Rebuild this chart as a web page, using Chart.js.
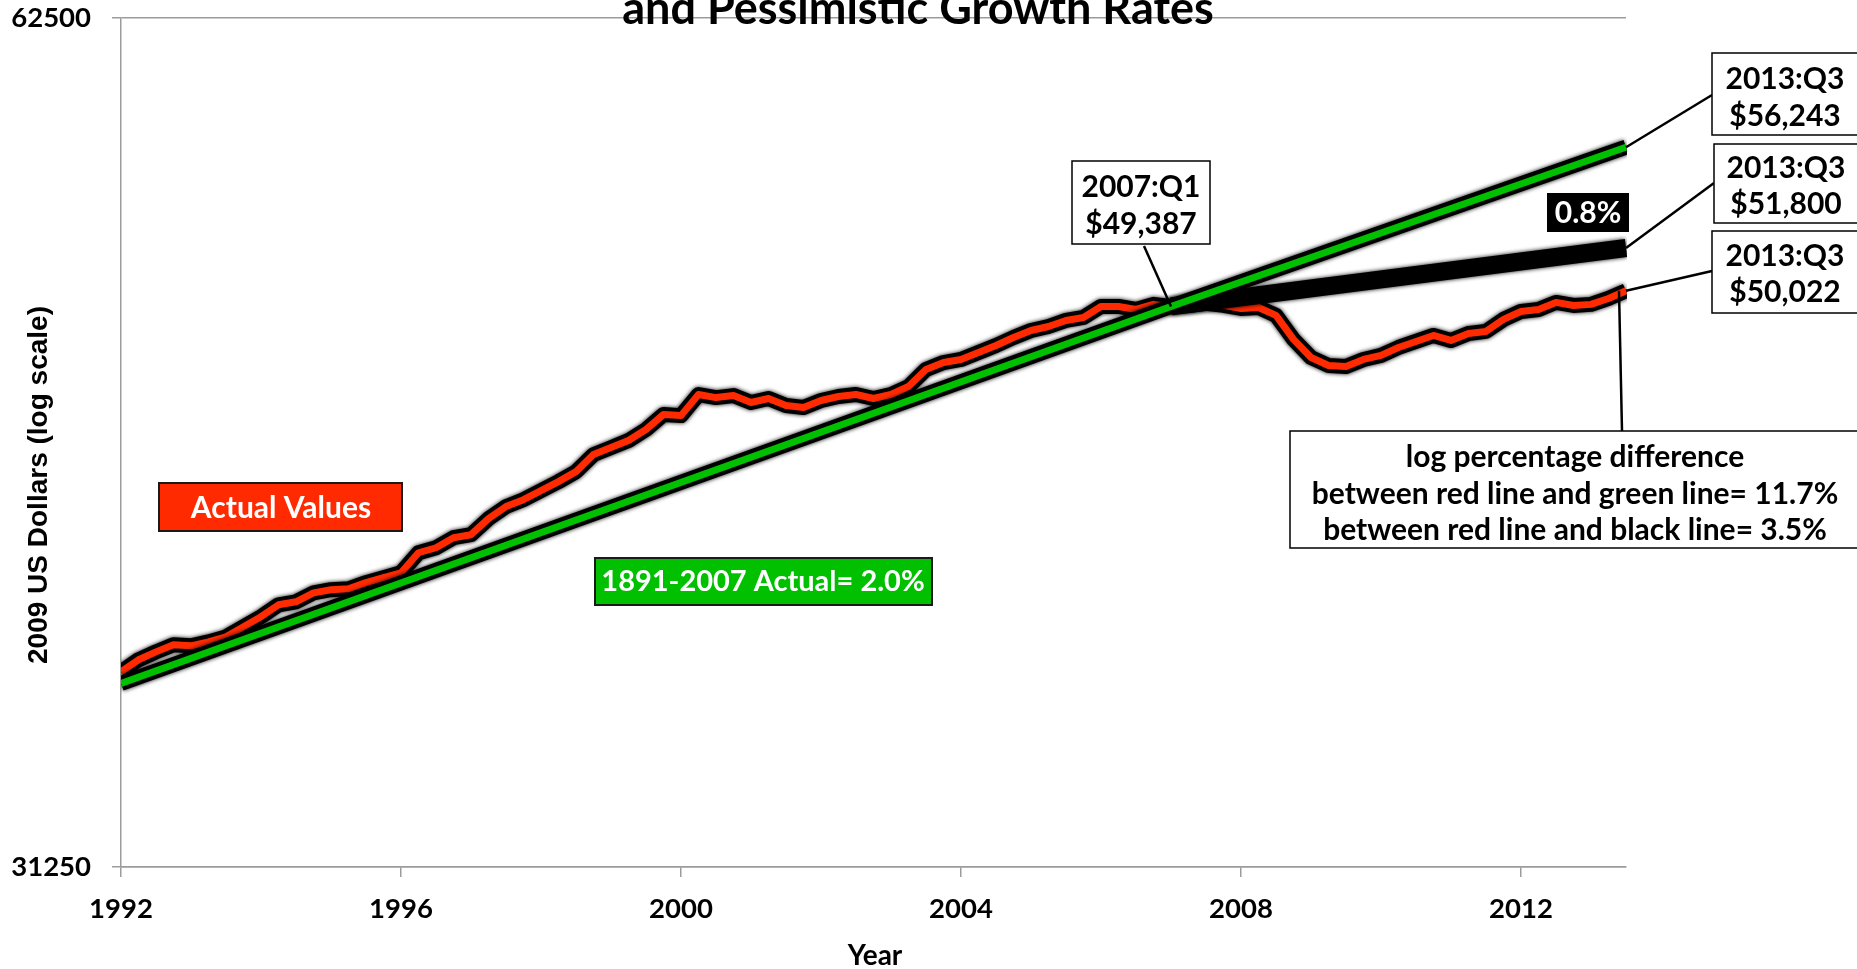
<!DOCTYPE html>
<html>
<head>
<meta charset="utf-8">
<title>Real GDP per capita: actual vs trend</title>
<script src="https://cdn.jsdelivr.net/npm/chart.js@4.4.1/dist/chart.umd.min.js"></script>
<style>
  html, body { margin: 0; padding: 0; background: #fff; }
  #wrap { width: 1857px; height: 969px; position: relative; }
</style>
</head>
<body>
<div id="wrap"><canvas id="gdpChart"></canvas></div>
<script>
// Real GDP per capita (2009 US dollars), quarterly 1992:Q1 .. 2013:Q3
const firstYear = 1992;
const actualValues = [
  36650, 37010, 37250, 37465, 37435, 37555, 37710, 38020,   // 1992-1993
  38335, 38710, 38805, 39090, 39190, 39220, 39415, 39575,   // 1994-1995
  39735, 40390, 40555, 40890, 40990, 41530, 41940, 42180,   // 1996-1997
  42490, 42805, 43155, 43760, 44010, 44265, 44665, 45215,   // 1998-1999
  45175, 45960, 45845, 45920, 45660, 45810, 45550, 45475,   // 2000-2001
  45735, 45885, 45960, 45810, 45960, 46260, 46910, 47175,   // 2002-2003
  47295, 47565, 47835, 48150, 48425, 48585, 48825, 48945,   // 2004-2005
  49385, 49385, 49265, 49470, 49387, 49427, 49510, 49430,   // 2006-2007
  49305, 49345, 49025, 48075, 47370, 47060, 47025, 47295,   // 2008-2009
  47450, 47760, 47995, 48230, 48035, 48310, 48390, 48865,   // 2010-2011
  49185, 49265, 49550, 49425, 49470, 49710, 50022           // 2012-2013:Q3
];

// 2.0% trend line and 0.8% pessimistic line
const trendYears = [1992, 2007, 2013.5];
const trendValues = [36300, 49387, 56243];
const pessimisticYears = [2007, 2013.5];
const pessimisticValues = [49387, 51800];

const yearTicks = [1992, 1996, 2000, 2004, 2008, 2012];
const valueTicks = [31250, 62500];

const RED = '#ff2a00';
const GREEN = '#00c000';
const AXIS = '#9c9c9c';
const FONT = 'Lato';

const toPoints = (xs, ys) => ys.map((v, i) => ({ x: xs[i], y: v }));
const actualPoints = actualValues.map((v, i) => ({ x: firstYear + i / 4, y: v }));
const trendPoints = toPoints(trendYears, trendValues);
const pessimisticPoints = toPoints(pessimisticYears, pessimisticValues);

// soft black shadow behind some of the lines
const glowPlugin = {
  id: 'glow',
  beforeDatasetDraw(chart, args) {
    const ds = chart.data.datasets[args.index];
    if (!ds.glow) return;
    chart.ctx.save();
    chart.ctx.shadowColor = 'rgba(0,0,0,0.95)';
    chart.ctx.shadowBlur = ds.glow;
  },
  afterDatasetDraw(chart, args) {
    if (chart.data.datasets[args.index].glow) chart.ctx.restore();
  }
};

function drawBox(ctx, x, y, w, h, fill, stroke, lw) {
  ctx.fillStyle = fill;
  ctx.fillRect(x, y, w, h);
  ctx.lineWidth = lw;
  ctx.strokeStyle = stroke;
  ctx.strokeRect(x, y, w, h);
}

function drawLines(ctx, lines, cx, ys, color, size) {
  ctx.fillStyle = color;
  ctx.font = 'bold ' + size + 'px ' + FONT;
  ctx.textAlign = 'center';
  ctx.textBaseline = 'middle';
  lines.forEach((t, i) => ctx.fillText(t, cx, ys[i]));
}

function pointer(ctx, x1, y1, x2, y2) {
  ctx.beginPath();
  ctx.moveTo(x1, y1);
  ctx.lineTo(x2, y2);
  ctx.lineWidth = 2.5;
  ctx.strokeStyle = '#000';
  ctx.stroke();
}

const annotatePlugin = {
  id: 'annotate',
  afterDraw(chart) {
    const ctx = chart.ctx;
    const px = v => chart.scales.x.getPixelForValue(v);
    const py = v => chart.scales.y.getPixelForValue(v);
    const endX = px(trendYears[trendYears.length - 1]);
    ctx.save();

    // title (its first line runs off the top of the picture)
    ctx.fillStyle = '#000';
    ctx.font = 'bold 45px ' + FONT;
    ctx.textAlign = 'center';
    ctx.textBaseline = 'alphabetic';
    ctx.fillText('and Pessimistic Growth Rates', 918, 24);

    // axis titles
    ctx.save();
    ctx.translate(39, 485);
    ctx.rotate(-Math.PI / 2);
    ctx.font = 'bold 28px "Liberation Sans"';
    ctx.textBaseline = 'middle';
    ctx.fillText('2009 US Dollars (log scale)', 0, 0);
    ctx.restore();
    ctx.font = 'bold 28px ' + FONT;
    ctx.textBaseline = 'middle';
    ctx.fillText('Year', 875, 956);

    // callouts
    pointer(ctx, 1144, 246, px(2007), py(actualValues[60]));
    drawBox(ctx, 1072, 161, 138, 83, '#fff', '#000', 1.5);
    drawLines(ctx, ['2007:Q1', '$49,387'], 1141, [187, 224], '#000', 30);

    pointer(ctx, endX, py(trendValues[2]), 1712, 95);
    pointer(ctx, endX, py(pessimisticValues[1]), 1714, 183);
    pointer(ctx, endX, py(actualValues[actualValues.length - 1]), 1712, 271);
    drawBox(ctx, 1712, 53, 160, 82, '#fff', '#000', 1.5);
    drawLines(ctx, ['2013:Q3', '$56,243'], 1785, [79, 116], '#000', 30);
    drawBox(ctx, 1714, 144, 160, 79, '#fff', '#000', 1.5);
    drawLines(ctx, ['2013:Q3', '$51,800'], 1786, [168, 204], '#000', 30);
    drawBox(ctx, 1712, 231, 160, 82, '#fff', '#000', 1.5);
    drawLines(ctx, ['2013:Q3', '$50,022'], 1785, [256, 292], '#000', 30);

    pointer(ctx, endX - 7, py(actualValues[actualValues.length - 1]), endX - 4, 431);
    drawBox(ctx, 1290, 431, 600, 117, '#fff', '#000', 1.5);
    drawLines(ctx, ['log percentage difference',
                    'between red line and green line= 11.7%',
                    'between red line and black line= 3.5%'],
              1575, [457, 494, 530], '#000', 30);

    ctx.fillStyle = '#000';
    ctx.fillRect(1547, 193, 82, 39);
    drawLines(ctx, ['0.8%'], 1588, [213], '#fff', 30);

    drawBox(ctx, 159, 483, 243, 48, RED, '#1a1a1a', 2);
    drawLines(ctx, ['Actual Values'], 281, [508], '#fff', 30);

    drawBox(ctx, 595, 558, 337, 47, GREEN, '#1a1a1a', 2);
    drawLines(ctx, ['1891-2007 Actual= 2.0%'], 763, [582], '#fff', 29);

    ctx.restore();
  }
};

const lineBase = { pointRadius: 0, tension: 0, borderJoinStyle: 'round', clip: { left: 0, right: 1, top: 20, bottom: 20 } };

new Chart(document.getElementById('gdpChart'), {
  type: 'line',
  data: {
    datasets: [
      { ...lineBase, label: 'trend', data: trendPoints, borderColor: GREEN, borderWidth: 7, order: 1 },
      { ...lineBase, label: 'trend outline', data: trendPoints, borderColor: '#000', borderWidth: 15, glow: 4, order: 2 },
      { ...lineBase, label: 'pessimistic', data: pessimisticPoints, borderColor: '#000', borderWidth: 18, glow: 4, order: 3 },
      { ...lineBase, label: 'actual', data: actualPoints, borderColor: RED, borderWidth: 7, order: 4 },
      { ...lineBase, label: 'actual outline', data: actualPoints, borderColor: '#000', borderWidth: 15, glow: 4, order: 5 }
    ]
  },
  options: {
    responsive: true,
    maintainAspectRatio: false,
    animation: false,
    events: [],
    layout: { padding: { left: 0, right: 231, top: 18, bottom: 0 } },
    plugins: {
      legend: { display: false },
      tooltip: { enabled: false },
      title: { display: false }
    },
    scales: {
      x: {
        type: 'linear',
        min: 1992,
        max: 2013.5,
        afterBuildTicks: s => { s.ticks = yearTicks.map(v => ({ value: v })); },
        afterFit: s => { s.height = 102; s.paddingLeft = 0; s.paddingRight = 0; },
        grid: { drawOnChartArea: false, color: AXIS, lineWidth: 1.5, tickLength: 10 },
        border: { color: AXIS, width: 1.5 },
        ticks: {
          color: '#000',
          padding: 16,
          maxRotation: 0,
          font: { family: FONT, weight: 'bold', size: 27.5 },
          callback: v => String(v)
        }
      },
      y: {
        type: 'logarithmic',
        min: 31250,
        max: 62500,
        afterBuildTicks: s => { s.ticks = valueTicks.map(v => ({ value: v })); },
        // fixed width; don't let the top label push the plot down
        afterFit: s => { s.width = 121; s.paddingTop = 0; s.paddingBottom = 0; },
        grid: { color: AXIS, lineWidth: 1.5, tickLength: 9 },
        border: { color: AXIS, width: 1.5 },
        ticks: {
          color: '#000',
          padding: 21,
          font: { family: FONT, weight: 'bold', size: 27.5 },
          callback: v => String(v)
        }
      }
    }
  },
  plugins: [glowPlugin, annotatePlugin]
});
</script>
</body>
</html>
